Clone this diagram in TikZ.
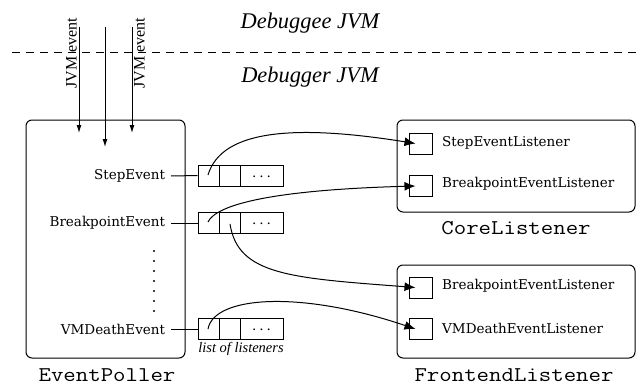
\documentclass[tikz,border=0pt]{standalone}
\usepackage{fontspec}
\newfontfamily\lblfont{DejaVu Serif}
\newfontfamily\hdfont{Liberation Serif}
\newfontfamily\clsfont{Latin Modern Mono}[FakeStretch=1.15]
\usetikzlibrary{arrows.meta,calc}
\tikzset{
  box/.style={draw, rounded corners=6pt, line width=1pt, inner sep=0pt},
  cell/.style={draw, minimum height=21pt, inner sep=0pt, line width=1pt},
  sqbox/.style={draw, minimum width=23pt, minimum height=21pt, inner sep=0pt, line width=1pt},
  evt/.style={font=\lblfont\fontsize{13.5}{16}\selectfont, anchor=east, inner sep=0pt, outer sep=6pt},
  lsttext/.style={font=\lblfont\fontsize{13.5}{16}\selectfont, anchor=west, inner sep=0pt},
  cls/.style={font=\clsfont\fontsize{21}{24}\selectfont, inner sep=0pt},
  jvm/.style={font=\hdfont\fontsize{22.4}{26}\selectfont\itshape, inner sep=0pt},
  jvmev/.style={font=\hdfont\fontsize{16}{18}\selectfont, rotate=90, inner sep=1pt},
  conn/.style={-{Latex[length=11pt,width=9pt]}, line width=1pt},
  vconn/.style={-{Latex[length=8pt,width=5pt]}, line width=1pt},
  dotmark/.style={fill, circle, inner sep=0pt, minimum size=2.2pt},
}
\begin{document}
\begin{tikzpicture}[x=1pt,y=-1pt]
\useasboundingbox (0,0) rectangle (639,385);

% JVM separation
\node[jvm] (gee) at (310,23) {Debuggee JVM};
\node[jvm] (ger) at (310,77) {Debugger JVM};
\coordinate (dl) at (12,53);
\coordinate (dr) at (639,53);
\draw[line width=1pt, dash pattern=on 8pt off 6pt] (dl) -- (dr);

% EventPoller
\node[box, minimum width=159pt, minimum height=238pt] (ep) at (105.5,239) {};
\node[cls] (eplab) at (107,375) {EventPoller};

% incoming JVM events
\coordinate (t1) at (79,27);  \coordinate (b1) at (79,133);
\coordinate (t2) at (105,27); \coordinate (b2) at (105,147);
\coordinate (t3) at (132,27); \coordinate (b3) at (132,133);
\draw[vconn] (t1) -- (b1);
\draw[vconn] (t2) -- (b2);
\draw[vconn] (t3) -- (b3);
\node[jvmev, anchor=south] (je1) at (78,53) {JVM event};
\node[jvmev, anchor=north] (je2) at (133,53) {JVM event};

% events
\node[evt] (se) at (171,176) {StepEvent};
\node[evt] (be) at (171,223) {BreakpointEvent};
\node[evt] (de) at (171,329) {VMDeathEvent};
\foreach \i in {0,...,6} \node[dotmark] (dot\i) at (154,251+10*\i) {};

% lists
\foreach \n/\y in {1/175.5, 2/223, 3/329} {
  \node[cell, minimum width=21pt] (l\n a) at (208.5,\y) {};
  \node[cell, minimum width=21pt] (l\n b) at (229.5,\y) {};
  \node[cell, minimum width=43pt] (l\n c) at (261.5,\y) {};
  \node[font=\lblfont\fontsize{13.5}{16}\selectfont, inner sep=0pt] (l\n d) at (261.5,\y+1) {.\hspace{3pt}.\hspace{3pt}.};
}
\draw[line width=1pt] (se.east) -- (l1a.west);
\draw[line width=1pt] (be.east) -- (l2a.west);
\draw[line width=1pt] (de.east) -- (l3a.west);
\node[font=\hdfont\fontsize{14.5}{16}\selectfont\itshape, inner sep=0pt] (lol) at (241,349) {list of listeners};

% CoreListener
\node[box, minimum width=238pt, minimum height=92pt] (core) at (516,166) {};
\node[cls] (corelab) at (516,228) {CoreListener};
\node[sqbox] (cs1) at (420.5,143.5) {};
\node[sqbox] (cs2) at (420.5,186) {};
\node[lsttext] (ct1) at (442,143) {StepEventListener};
\node[lsttext] (ct2) at (442,184) {BreakpointEventListener};

% FrontendListener
\node[box, minimum width=238pt, minimum height=93pt] (front) at (516,311.5) {};
\node[cls] (frontlab) at (514,375) {FrontendListener};
\node[sqbox] (fs1) at (420.5,287.5) {};
\node[sqbox] (fs2) at (420.5,329) {};
\node[lsttext] (ft1) at (442,286) {BreakpointEventListener};
\node[lsttext] (ft2) at (442,328) {VMDeathEventListener};

% connectors
\coordinate (s1) at (208,175);
\coordinate (s2) at (208,222);
\coordinate (s3) at (230,224);
\coordinate (s4) at (208,329);
\draw[conn] (s1) .. controls (222,128) and (300,125) .. ([xshift=7pt]cs1.west);
\draw[conn] (s2) .. controls (216,205) and (270,190) .. ([xshift=7pt]cs2.west);
\draw[conn] (s3) .. controls (238,275) and (290,278) .. ([xshift=7pt]fs1.west);
\draw[conn] (s4) .. controls (214,296) and (300,290) .. ([xshift=7pt]fs2.west);
\end{tikzpicture}
\end{document}
